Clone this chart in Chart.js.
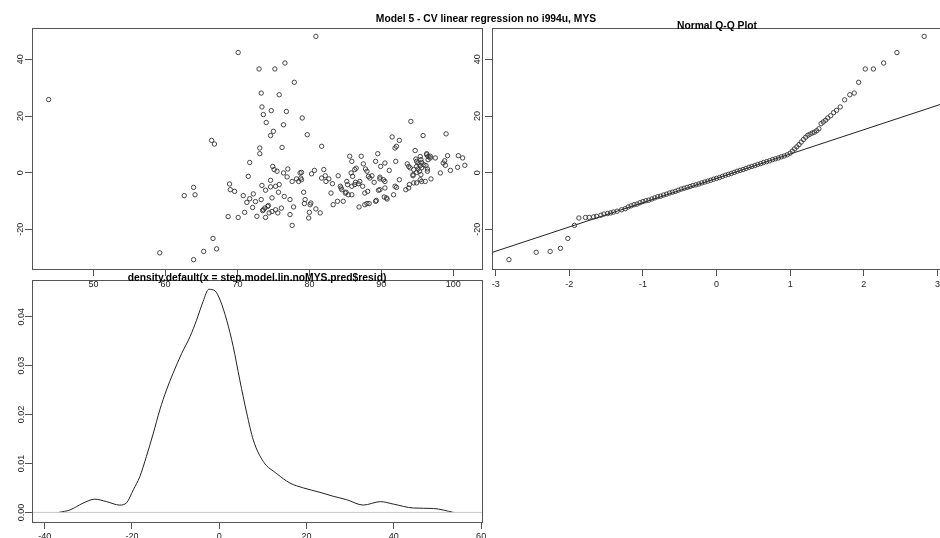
<!DOCTYPE html>
<html>
<head>
<meta charset="utf-8">
<script src="https://cdn.jsdelivr.net/npm/chart.js@4.4.1/dist/chart.umd.min.js"></script>
<style>
  html, body { margin: 0; padding: 0; background: #fff; width: 940px; height: 538px; overflow: hidden; }
  canvas { position: absolute; left: 0; top: 0; }
  .title { position: absolute; font: bold 10.3px "Liberation Sans", Arial, sans-serif; color: #000;
           white-space: nowrap; line-height: 1; transform: translate(-50%, -50%); }
</style>
</head>
<body>
<canvas id="dens" width="946" height="538"></canvas>
<canvas id="scat" width="946" height="538"></canvas>
<canvas id="qq" width="946" height="538"></canvas>
<div class="title" style="left:486px;top:19px">Model 5 - CV linear regression no i994u, MYS</div>
<div class="title" style="left:717px;top:26px">Normal Q-Q Plot</div>
<div class="title" style="left:257px;top:278px">density.default(x = step.model.lin.noMYS.pred$resid)</div>
<script>
// residuals vs fitted
const fitted = [
  43.75, 59.2, 62.6, 63.9, 64.1, 63.9, 65.3, 66.6, 67.1, 66.4, 66.8, 68.9, 69.0, 69.6, 68.7, 70.1, 70.1, 70.8, 71.3, 71.0,
  71.5, 71.7, 71.7, 72.2, 72.1, 72.5, 72.7, 73.0, 73.3, 73.4, 73.6, 74.0, 73.1, 73.1, 73.4, 73.3, 73.6, 73.9, 73.9, 74.2,
  74.4, 74.6, 74.6, 74.7, 75.0, 75.2, 74.9, 75.1, 74.8, 75.3, 75.5, 75.3, 75.8, 75.7, 75.8, 75.6, 76.1, 76.2, 76.6, 76.4,
  76.8, 76.4, 76.5, 77.0, 76.9, 77.3, 77.3, 77.6, 77.6, 77.9, 77.8, 78.2, 78.5, 78.7, 79.0, 78.9, 79.2, 79.3, 79.4, 79.7,
  79.9, 80.0, 80.2, 80.3, 80.7, 80.9, 80.9, 81.5, 81.7, 82.0, 81.7, 82.2, 82.3, 82.7, 83.0, 83.2, 83.3, 83.9, 84.0, 84.3,
  84.4, 84.7, 85.1, 85.2, 85.4, 85.6, 85.9, 85.9, 86.3, 86.5, 86.4, 86.9, 87.0, 87.2, 87.5, 87.4, 87.7, 87.8, 88.1, 88.2,
  88.3, 88.7, 89.0, 89.2, 89.2, 89.5, 89.6, 89.9, 89.8, 90.3, 90.4, 90.5, 90.5, 90.8, 91.1, 91.5, 91.7, 91.9, 92.1, 92.0,
  92.1, 92.5, 92.5, 93.4, 93.8, 93.6, 93.9, 94.1, 94.4, 94.5, 94.7, 94.8, 94.9, 94.9, 95.1, 95.3, 95.5, 95.5, 95.6, 95.8,
  95.9, 96.1, 96.3, 96.4, 96.5, 96.8, 96.9, 97.5, 98.2, 98.6, 98.8, 99.0, 99.2, 99.6, 100.6, 100.7, 101.3, 101.6,
  85.3, 84.5, 85.0, 85.9, 85.8, 86.0, 86.8, 86.3, 87.7, 88.4, 88.0, 89.8, 89.8, 90.5, 88.0, 89.3, 90.7, 91.9, 93.8, 94.0,
  95.4, 94.4, 94.9, 95.1, 95.4, 95.6, 94.9, 95.6, 94.5, 95.4, 96.2, 96.4, 96.3, 96.5, 96.8, 98.9, 78.8, 78.9, 74.6, 80.1,
  73.5, 73.8, 74.3, 74.8
];
const resid = [
  25.8, -28.3, -8.1, -5.2, -7.8, -30.7, -27.8, -23.2, -26.9, 11.4, 10.1, -4.0, -6.0, -6.6, -15.5, -15.8, 42.4, -8.1, -10.5, -14.0,
  -1.3, 3.6, -9.2, -7.5, -12.3, -10.2, -15.4, 36.6, 28.1, 23.2, 20.5, 17.7, 8.7, 6.7, -4.5, -9.5, -13.1, -15.8, -6.2, -11.9,
  -14.2, -2.7, 13.1, 21.9, 14.6, 36.6, 2.2, 1.1, -8.9, -4.8, 0.5, -13.1, 27.5, -6.9, -4.2, -14.2, -12.5, 8.9, 38.7, 16.9,
  21.6, -0.1, -8.4, 1.3, -1.5, -9.5, -14.8, -18.6, -3.1, 31.9, -12.1, -2.2, -3.1, -0.1, 19.3, -2.5, -6.9, -10.9, -9.5, 13.4,
  -16.0, -14.0, -10.7, -0.4, 0.8, 48.1, -12.8, -14.2, 9.3, 1.1, -1.9, -1.1, -3.1, -2.2, -7.2, -3.9, -11.3, -10.1, -1.1, -4.8,
  -5.4, -10.1, -6.9, -3.1, -7.8, 5.8, 4.0, -4.8, 1.1, 1.6, -3.4, -12.1, -3.1, 5.8, 3.1, -4.8, -11.3, 1.3, -6.6, -1.3,
  -10.9, -1.1, -3.4, -10.1, 4.0, 6.7, -6.2, 2.2, -1.6, -2.5, -8.6, -5.4, 3.4, -9.3, 0.8, 12.6, -7.8, 8.7, 9.3, 4.0,
  -5.2, 11.4, -2.5, -6.0, 2.2, 3.1, -4.2, 18.1, -0.7, 1.1, 7.8, 4.8, -3.6, 2.2, 3.4, 0.5, 4.6, -0.7, -3.1, 13.1,
  2.8, -3.1, 6.3, 0.5, 4.6, 5.8, -2.2, 5.2, -0.1, 3.4, 4.2, 13.7, 6.0, 0.8, 1.9, 6.0, 5.2, 2.6,
  -4.2, -6.0, -7.2, -7.8, -0.1, -1.3, -3.9, -4.2, -7.2, -1.9, 0.5, -6.0, -2.2, -3.1, -10.9, -9.8, -8.9, -4.8, -5.4, 1.7,
  5.7, -1.1, 0.1, 1.3, 2.5, 3.6, 4.0, 1.7, -3.6, -2.5, 2.5, 1.3, 6.7, 5.7, 5.2, 2.6, -1.9, 0.1, -5.0, -11.3,
  -13.4, -12.5, -11.6, -13.7
];
const scatXTicks = [50, 60, 70, 80, 90, 100];
const residTicks = [-20, 0, 20, 40];
const scatXRange = [41.44, 103.99];
const residRange = [-34.0, 51.06];

// normal Q-Q plot (theoretical quantile, sample quantile)
const qqTheo = [
  -2.82, -2.45, -2.26, -2.12, -2.02, -1.93, -1.87, -1.78, -1.73, -1.67, -1.63, -1.57, -1.53, -1.48, -1.44, -1.40, -1.35, -1.29, -1.24,
  -1.20, -1.16, -1.12, -1.08, -1.04, -1.00, -0.96, -0.92, -0.88, -0.84, -0.80, -0.76, -0.72, -0.68, -0.64, -0.60, -0.56, -0.52,
  -0.48, -0.44, -0.40, -0.36, -0.32, -0.28, -0.24, -0.20, -0.16, -0.12, -0.08, -0.04, 0.00, 0.04, 0.08, 0.12, 0.16, 0.20,
  0.24, 0.28, 0.32, 0.36, 0.40, 0.44, 0.48, 0.52, 0.56, 0.60, 0.64, 0.68, 0.72, 0.76, 0.80, 0.84, 0.88, 0.92,
  0.96, 1.00, 1.03, 1.06, 1.09, 1.12, 1.15, 1.18, 1.21, 1.24, 1.27, 1.30, 1.33, 1.36, 1.39, 1.42, 1.45, 1.48, 1.51, 1.55,
  1.59, 1.63, 1.68, 1.74, 1.81, 1.87, 1.93, 2.02, 2.13, 2.27, 2.45, 2.82
];
const qqSample = [
  -30.7, -28.1, -27.8, -26.7, -23.2, -18.6, -16.0, -15.8, -15.8, -15.6, -15.4, -15.0, -14.6, -14.4, -14.2, -13.9, -13.6, -13.1, -12.7,
  -12.1, -11.7, -11.3, -11.1, -10.6, -10.2, -9.9, -9.7, -9.3, -8.9, -8.5, -8.3, -7.9, -7.6, -7.2, -6.9, -6.6, -6.2,
  -5.8, -5.5, -5.2, -4.9, -4.5, -4.3, -4.0, -3.6, -3.3, -3.0, -2.7, -2.3, -2.0, -1.7, -1.3, -0.9, -0.6, -0.3,
  0.1, 0.5, 0.8, 1.1, 1.5, 1.9, 2.2, 2.5, 2.9, 3.2, 3.6, 3.9, 4.2, 4.6, 4.9, 5.2, 5.6, 5.9,
  6.3, 6.9, 7.6, 8.4, 9.1, 9.9, 10.8, 11.7, 12.5, 13.2, 13.6, 14.0, 14.3, 14.8, 15.5, 17.3, 17.9, 18.5, 19.3, 20.1,
  21.2, 22.0, 23.2, 25.7, 27.5, 28.1, 31.9, 36.6, 36.6, 38.7, 42.4, 48.1
];
const qqLineX = [-3.05, 3.05];
const qqLineY = [-28.17, 24.17];
const qqXTicks = [-3, -2, -1, 0, 1, 2, 3];
const qqXRange = [-3.05, 3.05];

// kernel density of the residuals
const densX = [-36.8, -34.2, -31.2, -28.5, -25.8, -22.8, -21.2, -19.7, -18.2, -16.7, -15.1, -13.6, -12.1, -10.6, -8.6, -6.7,
  -5.2, -3.7, -2.4, -1.0, 0.2, 1.7, 3.2, 4.7, 6.3, 7.8, 10.1, 13.2, 16.2, 19.3, 23.1, 26.1, 29.2, 33.0, 36.9, 39.9, 44.5, 49.1, 53.7];
const densY = [0, 0.0005, 0.0019, 0.0027, 0.0022, 0.0015, 0.0020, 0.0046, 0.0073, 0.0114, 0.0162, 0.0210, 0.0250, 0.0284,
  0.0325, 0.0359, 0.0393, 0.0431, 0.0456, 0.0453, 0.0434, 0.0393, 0.0339, 0.0271, 0.0203, 0.0148, 0.0104, 0.0079, 0.0060,
  0.0050, 0.0041, 0.0033, 0.0026, 0.0015, 0.0022, 0.0017, 0.0009, 0.0008, 0];
const densXTicks = [-40, -20, 0, 20, 40, 60];
const densYTicks = [0, 0.01, 0.02, 0.03, 0.04];
const densXRange = [-42.9, 60.2];
const densYRange = [-0.00196, 0.0475];

const W = 946, H = 538;
const INK = '#222', BOX = '#555';
const FONT = { family: '"Liberation Sans", Arial, sans-serif', size: 9 };

const pts = (xs, ys) => xs.map((x, i) => ({ x: x, y: ys[i] }));

// R style box around the plot region
const frame = {
  id: 'frame',
  afterDraw(chart) {
    const a = chart.chartArea, ctx = chart.ctx;
    ctx.save();
    ctx.strokeStyle = BOX;
    ctx.lineWidth = 1;
    ctx.strokeRect(Math.round(a.left) + 0.5, Math.round(a.top) + 0.5,
      Math.round(a.right - a.left), Math.round(a.bottom - a.top));
    ctx.restore();
  }
};

// fixed-size axis so the plot region lands where the reference has it
function axis(range, ticks, pad, size, vertical, fmt) {
  const o = {
    type: 'linear',
    min: range[0], max: range[1],
    afterBuildTicks: s => { s.ticks = ticks.map(v => ({ value: v })); },
    afterFit: s => { if (vertical) s.width = size; else s.height = size; },
    grid: { drawOnChartArea: false, drawTicks: true, tickLength: 7, color: BOX },
    border: { display: false },
    ticks: { font: FONT, color: INK, padding: pad, autoSkip: false, callback: fmt || (v => String(v)) }
  };
  if (vertical) {
    o.ticks.minRotation = 90;
    o.ticks.maxRotation = 90;
    o.ticks.crossAlign = 'center';
  } else {
    o.ticks.maxRotation = 0;
  }
  return o;
}

function panel(id, area, xAxis, yAxis, datasets) {
  const xs = xAxis.size, ys = yAxis.size;
  delete xAxis.size; delete yAxis.size;
  return new Chart(document.getElementById(id), {
    type: 'scatter',
    data: { datasets: datasets },
    options: {
      responsive: false,
      animation: false,
      events: [],
      layout: { padding: { left: area[0] - ys, top: area[1], right: W - area[2], bottom: H - area[3] - xs } },
      plugins: { legend: { display: false }, tooltip: { enabled: false } },
      scales: { x: xAxis, y: yAxis }
    },
    plugins: [frame]
  });
}

function ax(range, ticks, pad, size, vertical, fmt) {
  return Object.assign(axis(range, ticks, pad, size, vertical, fmt), { size: size });
}

const pointStyle = {
  pointStyle: 'circle', pointRadius: 2.2, borderColor: '#333', borderWidth: 0.9,
  backgroundColor: 'rgba(0,0,0,0)', showLine: false
};

panel('dens', [32, 280, 482, 522],
  ax(densXRange, densXTicks, 2.5, 16, false),
  ax(densYRange, densYTicks, -5.2, 30, true, v => v.toFixed(2)),
  [
    { data: pts(densXRange, [0, 0]), showLine: true, borderColor: '#c8c8c8', borderWidth: 1, pointRadius: 0 },
    { data: pts(densX, densY), showLine: true, borderColor: INK, borderWidth: 1, pointRadius: 0,
      cubicInterpolationMode: 'monotone' }
  ]);

panel('scat', [32, 28, 482, 269],
  ax(scatXRange, scatXTicks, 3, 26, false),
  ax(residRange, residTicks, -1.8, 30, true),
  [Object.assign({ data: pts(fitted, resid) }, pointStyle)]);

panel('qq', [492, 28, 942, 269],
  ax(qqXRange, qqXTicks, 3.5, 26, false),
  ax(residRange, residTicks, 0.9, 30, true),
  [
    Object.assign({ data: pts(qqTheo, qqSample) }, pointStyle),
    { data: pts(qqLineX, qqLineY), showLine: true, borderColor: INK, borderWidth: 1, pointRadius: 0 }
  ]);
</script>
</body>
</html>
